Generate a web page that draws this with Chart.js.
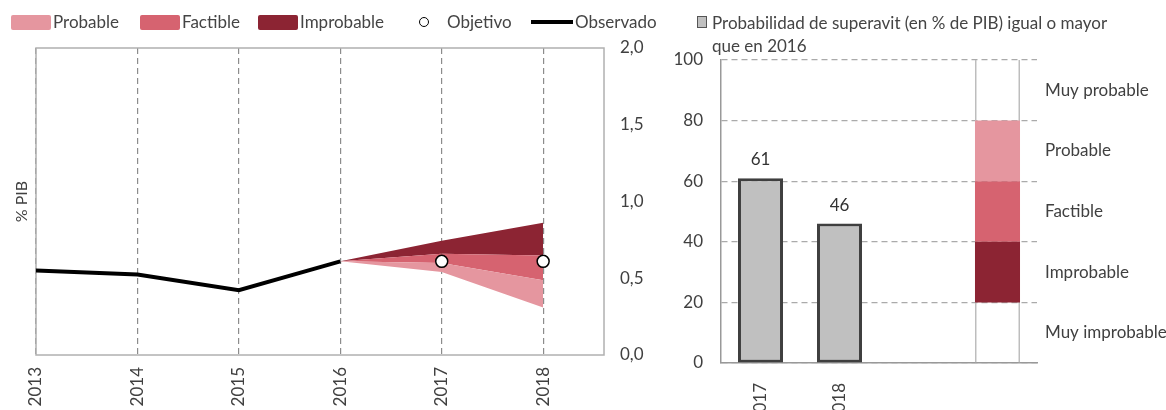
<!DOCTYPE html>
<html lang="es">
<head>
<meta charset="utf-8">
<script src="https://cdn.jsdelivr.net/npm/chart.js@4.4.1/dist/chart.umd.min.js"></script>
<style>
  body { margin: 0; background: #fff; font-family: Lato, "Noto Sans", sans-serif; color: #444; }
  #wrap { position: relative; width: 1166px; height: 410px; overflow: hidden; }
  #izq { position: absolute; left: 0; top: 0; }
  #der { position: absolute; left: 660px; top: 0; }
  .ley { position: absolute; font-size: 17px; line-height: 20px; white-space: nowrap; color: #444; }
  .caja { position: absolute; width: 40px; height: 15px; border-radius: 2px; }
</style>
</head>
<body>
<div id="wrap">
  <canvas id="izq" width="660" height="410"></canvas>
  <canvas id="der" width="506" height="410"></canvas>

  <!-- leyenda del gráfico izquierdo -->
  <div class="caja" style="left:11px;top:15px;background:#e5969f"></div>
  <div class="ley" style="left:53px;top:12px">Probable</div>
  <div class="caja" style="left:140px;top:15px;background:#d66370"></div>
  <div class="ley" style="left:182px;top:12px">Factible</div>
  <div class="caja" style="left:258px;top:15px;background:#8c2433"></div>
  <div class="ley" style="left:300px;top:12px">Improbable</div>
  <div style="position:absolute;left:419px;top:17px;width:8px;height:8px;border:1.5px solid #000;border-radius:50%;background:#fff"></div>
  <div class="ley" style="left:447px;top:12px">Objetivo</div>
  <div style="position:absolute;left:531px;top:20px;width:42px;height:4px;background:#000"></div>
  <div class="ley" style="left:575px;top:12px">Observado</div>

  <!-- leyenda del gráfico derecho -->
  <div style="position:absolute;left:697px;top:16px;width:8px;height:10px;border:1px solid #555;background:#c0c0c0"></div>
  <div class="ley" style="left:712px;top:11px;line-height:23px">Probabilidad de superavit (en % de PIB) igual o mayor<br>que en 2016</div>
</div>

<script>
// Balance estructural: observado, objetivo y abanico de probabilidades (% PIB)
const anios = [2013, 2014, 2015, 2016, 2017, 2018];
const observado = [0.55, 0.524, 0.422, 0.61, null, null];
const objetivo = [null, null, null, null, 0.61, 0.61];
const limProbableInf = [null, null, null, 0.61, 0.54, 0.31];
const limFactibleInf = [null, null, null, 0.61, 0.60, 0.487];
const limImprobableInf = [null, null, null, 0.61, 0.66, 0.649];
const limImprobableSup = [null, null, null, 0.61, 0.745, 0.862];
const ticksPib = [0, 0.5, 1, 1.5, 2];

// Probabilidad de superávit igual o mayor que en 2016
const categoriasDer = ['2017', '2018', '', ''];
const probSuperavit = [61, 46, null, null];
const ticksProb = [0, 20, 40, 60, 80, 100];
const escalaLimites = [0, 20, 40, 60, 80, 100];
const escalaNombres = ['Muy improbable', 'Improbable', 'Factible', 'Probable', 'Muy probable'];
const escalaColores = [null, '#8c2433', '#d66370', '#e5969f', null];

const fuente = { family: 'Lato', size: 17 };
const gris = '#404040';

const puntos = arr => anios.map((x, i) => ({ x: x, y: arr[i] })).filter(p => p.y !== null);

const banda = (arr, color) => ({
    data: puntos(arr),
    yAxisID: 'y',
    borderWidth: 0,
    pointRadius: 0,
    backgroundColor: color,
    fill: color ? '-1' : false,
    order: 2
});

// marco gris del área de gráfico
const marco = {
    id: 'marco',
    beforeDatasetsDraw(chart) {
        const a = chart.chartArea, ctx = chart.ctx;
        ctx.save();
        ctx.strokeStyle = '#b0b0b0';
        ctx.lineWidth = 1.5;
        ctx.strokeRect(a.left, a.top, a.right - a.left, a.bottom - a.top);
        ctx.restore();
    }
};

new Chart(document.getElementById('izq'), {
    type: 'line',
    data: {
        datasets: [
            banda(limProbableInf, null),
            banda(limFactibleInf, '#e5969f'),
            banda(limImprobableInf, '#d66370'),
            banda(limImprobableSup, '#8c2433'),
            {
                data: puntos(observado),
                yAxisID: 'y',
                borderColor: '#000',
                borderWidth: 4,
                pointRadius: 0,
                fill: false,
                order: 1
            },
            {
                data: puntos(objetivo),
                yAxisID: 'y',
                showLine: false,
                pointRadius: 6,
                pointBackgroundColor: '#fff',
                pointBorderColor: '#000',
                pointBorderWidth: 1.5,
                order: 0
            }
        ]
    },
    options: {
        responsive: false,
        animation: false,
        layout: { padding: { top: 48 } },
        plugins: { legend: { display: false }, tooltip: { enabled: false } },
        scales: {
            x: {
                type: 'linear',
                min: 2013,
                max: 2018.6,
                afterBuildTicks: s => { s.ticks = anios.map(v => ({ value: v })); },
                afterFit: s => { s.height = 55; },
                ticks: {
                    minRotation: 90, maxRotation: 90, autoSkip: false,
                    callback: v => String(v),
                    font: fuente, color: gris, padding: 12
                },
                grid: { color: '#8c8c8c', lineWidth: 1.2, drawTicks: false },
                border: { display: false, dash: [6, 4] }
            },
            yl: {
                position: 'left',
                afterFit: s => { s.width = 36; },
                ticks: { display: false },
                grid: { display: false },
                border: { display: false },
                title: { display: true, text: '% PIB', font: { family: 'Lato', size: 16 }, color: gris, padding: { top: 12 } }
            },
            y: {
                position: 'right',
                min: 0,
                max: 2,
                afterBuildTicks: s => { s.ticks = ticksPib.map(v => ({ value: v })); },
                afterFit: s => { s.width = 56; },
                ticks: {
                    callback: v => v.toFixed(1).replace('.', ','),
                    font: fuente, color: gris, padding: 8
                },
                grid: { display: false },
                border: { display: false }
            }
        }
    },
    plugins: [marco]
});

// etiquetas de valor sobre las barras
const etiquetas = {
    id: 'etiquetas',
    afterDatasetsDraw(chart) {
        const ctx = chart.ctx;
        const meta = chart.getDatasetMeta(0);
        ctx.save();
        ctx.font = '17px Lato';
        ctx.fillStyle = '#333';
        ctx.textAlign = 'center';
        ctx.textBaseline = 'alphabetic';
        meta.data.forEach((el, i) => {
            const v = probSuperavit[i];
            if (v !== null) ctx.fillText(String(v), el.x, el.y - 13);
        });
        ctx.restore();
    }
};

const escalaDatasets = [];
escalaColores.forEach((c, i) => {
    if (!c) return;
    escalaDatasets.push({
        data: categoriasDer.map((_, j) => j === 3 ? [escalaLimites[i], escalaLimites[i + 1]] : null),
        backgroundColor: c,
        borderWidth: 0,
        categoryPercentage: 1,
        barPercentage: 0.57
    });
});

const medios = escalaNombres.map((_, i) => (escalaLimites[i] + escalaLimites[i + 1]) / 2);

new Chart(document.getElementById('der'), {
    type: 'bar',
    data: {
        labels: categoriasDer,
        datasets: [
            {
                label: 'Probabilidad de superavit (en % de PIB) igual o mayor que en 2016',
                data: probSuperavit,
                backgroundColor: '#c0c0c0',
                borderColor: '#3f3f3f',
                borderWidth: 3,
                borderSkipped: false,
                categoryPercentage: 1,
                barPercentage: 0.57
            },
            ...escalaDatasets,
            {
                data: categoriasDer.map((_, j) => j === 3 ? [escalaLimites[0], escalaLimites[5]] : null),
                backgroundColor: 'rgba(0,0,0,0)',
                borderColor: '#bdbdbd',
                borderWidth: { left: 1.5, right: 1.5, top: 0, bottom: 0 },
                borderSkipped: false,
                categoryPercentage: 1,
                barPercentage: 0.57
            }
        ]
    },
    options: {
        responsive: false,
        animation: false,
        layout: { padding: { top: 60 } },
        plugins: { legend: { display: false }, tooltip: { enabled: false } },
        scales: {
            x: {
                stacked: true,
                afterFit: s => { s.height = 47; },
                ticks: { minRotation: 90, maxRotation: 90, autoSkip: false, font: fuente, color: gris, padding: 12 },
                grid: { display: false },
                border: { display: true, color: '#999', width: 1.5 }
            },
            y: {
                stacked: false,
                min: 0,
                max: 100,
                afterBuildTicks: s => { s.ticks = ticksProb.map(v => ({ value: v })); },
                afterFit: s => { s.width = 61; },
                ticks: { font: fuente, color: gris, padding: 18 },
                grid: { color: '#aaa', lineWidth: 1.2, drawTicks: false },
                border: { display: true, color: '#999', width: 1.5, dash: [6, 4] }
            },
            y2: {
                position: 'right',
                min: 0,
                max: 100,
                afterBuildTicks: s => { s.ticks = medios.map(v => ({ value: v })); },
                afterFit: s => { s.width = 129; },
                ticks: {
                    callback: (v, i) => escalaNombres[i],
                    font: fuente, color: gris, padding: 0
                },
                grid: { display: false },
                border: { display: false }
            }
        }
    },
    plugins: [etiquetas]
});
</script>
</body>
</html>
